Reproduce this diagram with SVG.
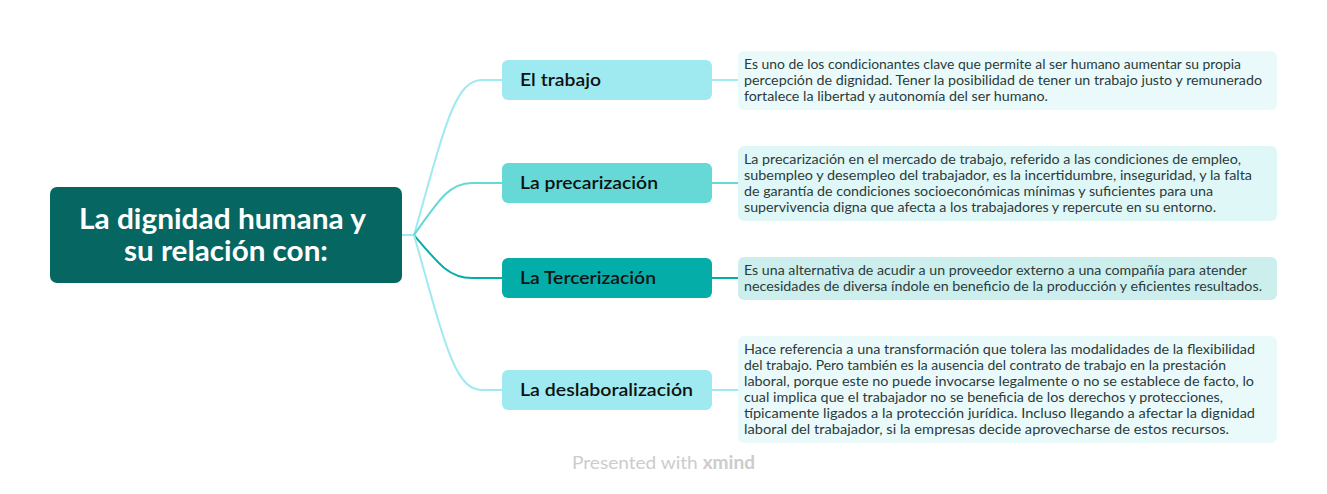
<svg xmlns="http://www.w3.org/2000/svg" width="1327" height="494" viewBox="0 0 1327 494">
<style>
.root{fill:#066662}
.rt{font-family:Lato,"Noto Sans",sans-serif;font-weight:700;font-size:28px;fill:#ffffff}
.bt{font-family:Lato,"Noto Sans",sans-serif;font-weight:600;font-size:18px;fill:#111111}
.dt{font-family:Lato,"Noto Sans",sans-serif;font-size:14px;fill:#2b3b3b}
.c1{fill:#9EEAF0}.c2{fill:#66D8D6}.c3{fill:#05ADA8}
.d1{fill:#EAFAFB}.d2{fill:#E0F7F7}.d3{fill:#CCEFEE}
.l{fill:none;stroke-width:2}
.s1{stroke:#9EEAF0}.s2{stroke:#66D8D6}.s3{stroke:#05ADA8}
.wm{font-family:Lato,"Noto Sans",sans-serif;font-size:18px;fill:#cccccc}
</style>
<rect width="1327" height="494" fill="#ffffff"/>
<g id="connectors">
<path class="l s1" d="M402,235 L414,235"/>
<path class="l s1" d="M414,235 C445,125 455,80 482,80 L502,80"/>
<path class="l s2" d="M414,235 C440,198 450,183 472,183 L502,183"/>
<path class="l s3" d="M414,235 C440,266 450,278 472,278 L502,278"/>
<path class="l s1" d="M414,235 C445,345 455,390 482,390 L502,390"/>
<path class="l s1" d="M712,80 L738,80"/>
<path class="l s2" d="M712,183 L738,183"/>
<path class="l s3" d="M712,278 L738,278"/>
<path class="l s1" d="M712,390 L738,390"/>
</g>
<g id="root">
<rect class="root" x="50" y="187" width="352" height="96" rx="7"/>
<text class="rt" x="79" y="229" textLength="287" lengthAdjust="spacingAndGlyphs">La dignidad humana y</text>
<text class="rt" x="124" y="261" textLength="204" lengthAdjust="spacingAndGlyphs">su relación con:</text>
</g>
<g id="b1">
<rect class="c1" x="502" y="60" width="210" height="40" rx="6"/>
<text class="bt" x="520" y="86" textLength="81" lengthAdjust="spacingAndGlyphs">El trabajo</text>
</g>
<g id="b2">
<rect class="c2" x="502" y="163" width="210" height="40" rx="6"/>
<text class="bt" x="520" y="189" textLength="138" lengthAdjust="spacingAndGlyphs">La precarización</text>
</g>
<g id="b3">
<rect class="c3" x="502" y="258" width="210" height="40" rx="6"/>
<text class="bt" x="520" y="284" textLength="136" lengthAdjust="spacingAndGlyphs">La Tercerización</text>
</g>
<g id="b4">
<rect class="c1" x="502" y="370" width="210" height="40" rx="6"/>
<text class="bt" x="520" y="396" textLength="173" lengthAdjust="spacingAndGlyphs">La deslaboralización</text>
</g>
<g id="d1">
<rect class="d1" x="738" y="51" width="539" height="59" rx="6"/>
<text class="dt" x="744" y="69" textLength="497" lengthAdjust="spacingAndGlyphs">Es uno de los condicionantes clave que permite al ser humano aumentar su propia</text>
<text class="dt" x="744" y="85" textLength="518" lengthAdjust="spacingAndGlyphs">percepción de dignidad. Tener la posibilidad de tener un trabajo justo y remunerado</text>
<text class="dt" x="744" y="101" textLength="304" lengthAdjust="spacingAndGlyphs">fortalece la libertad y autonomía del ser humano.</text>
</g>
<g id="d2">
<rect class="d2" x="738" y="146" width="539" height="75" rx="6"/>
<text class="dt" x="744" y="164" textLength="497" lengthAdjust="spacingAndGlyphs">La precarización en el mercado de trabajo, referido a las condiciones de empleo,</text>
<text class="dt" x="744" y="180" textLength="508" lengthAdjust="spacingAndGlyphs">subempleo y desempleo del trabajador, es la incertidumbre, inseguridad, y la falta</text>
<text class="dt" x="744" y="196" textLength="469" lengthAdjust="spacingAndGlyphs">de garantía de condiciones socioeconómicas mínimas y suficientes para una</text>
<text class="dt" x="744" y="212" textLength="472" lengthAdjust="spacingAndGlyphs">supervivencia digna que afecta a los trabajadores y repercute en su entorno.</text>
</g>
<g id="d3">
<rect class="d3" x="738" y="257" width="539" height="43" rx="6"/>
<text class="dt" x="744" y="275" textLength="503" lengthAdjust="spacingAndGlyphs">Es una alternativa de acudir a un proveedor externo a una compañía para atender</text>
<text class="dt" x="744" y="291" textLength="518" lengthAdjust="spacingAndGlyphs">necesidades de diversa índole en beneficio de la producción y eficientes resultados.</text>
</g>
<g id="d4">
<rect class="d1" x="738" y="336" width="539" height="107" rx="6"/>
<text class="dt" x="744" y="354" textLength="511" lengthAdjust="spacingAndGlyphs">Hace referencia a una transformación que tolera las modalidades de la flexibilidad</text>
<text class="dt" x="744" y="370" textLength="482" lengthAdjust="spacingAndGlyphs">del trabajo. Pero también es la ausencia del contrato de trabajo en la prestación</text>
<text class="dt" x="744" y="386" textLength="510" lengthAdjust="spacingAndGlyphs">laboral, porque este no puede invocarse legalmente o no se establece de facto, lo</text>
<text class="dt" x="744" y="402" textLength="479" lengthAdjust="spacingAndGlyphs">cual implica que el trabajador no se beneficia de los derechos y protecciones,</text>
<text class="dt" x="744" y="418" textLength="511" lengthAdjust="spacingAndGlyphs">típicamente ligados a la protección jurídica. Incluso llegando a afectar la dignidad</text>
<text class="dt" x="744" y="434" textLength="485" lengthAdjust="spacingAndGlyphs">laboral del trabajador, si la empresas decide aprovecharse de estos recursos.</text>
</g>
<text class="wm" x="572" y="469" textLength="183" lengthAdjust="spacingAndGlyphs">Presented with <tspan font-weight="700">xmind</tspan></text>
</svg>
